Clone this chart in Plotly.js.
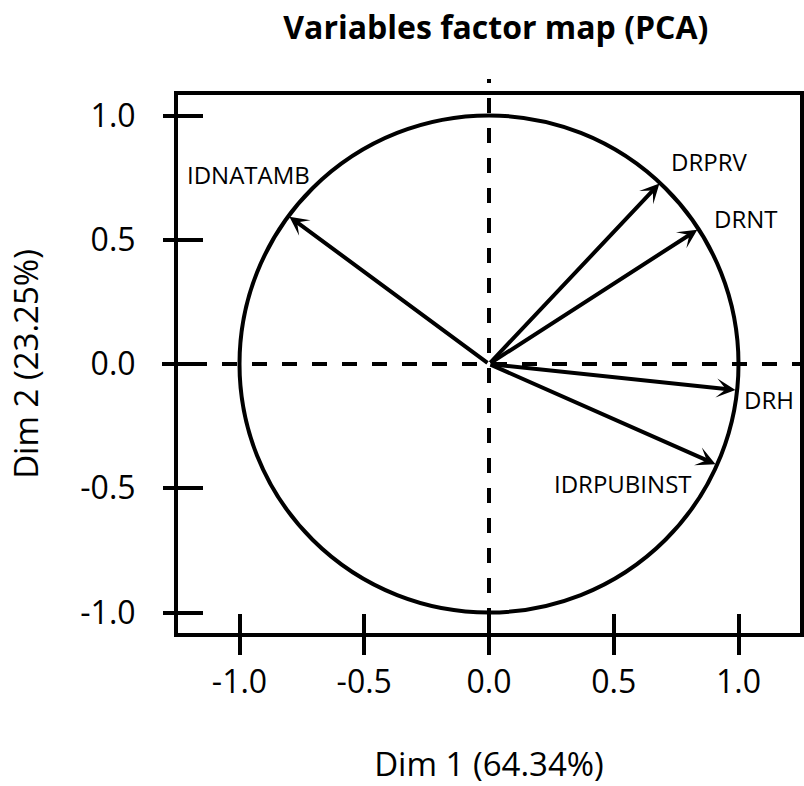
<!DOCTYPE html>
<html><head><meta charset="utf-8">
<script src="https://cdn.plot.ly/plotly-3.0.1.min.js"></script>
<style>html,body{margin:0;padding:0;background:#fff}</style>
</head><body><div id="chart" style="width:804px;height:786px"></div>
<script>
const variables = ['IDNATAMB', 'DRPRV', 'DRNT', 'DRH', 'IDRPUBINST'];
const dim1 = [-0.800, 0.683, 0.835, 0.988, 0.908];
const dim2 = [0.593, 0.726, 0.540, -0.105, -0.403];
const tickValues = [-1, -0.5, 0, 0.5, 1];
const tickLabels = ['-1.0', '-0.5', '0.0', '0.5', '1.0'];
const dim1Label = 'Dim 1 (64.34%)';
const dim2Label = 'Dim 2 (23.25%)';
const chartTitle = 'Variables factor map (PCA)';

// label offsets in pixels (style only)
const labelShift = [[-41, 42], [50, 22], [49, 11], [33, -9], [-93, -19]];

const FONT = 'Open Sans, Liberation Sans, sans-serif';
const xRange = [-1.2465, 1.2465];
const yRange = [-1.0825, 1.0825];

const annotations = [];
variables.forEach((v, i) => {
  annotations.push({
    x: dim1[i], y: dim2[i], xref: 'x', yref: 'y',
    ax: 0, ay: 0, axref: 'x', ayref: 'y',
    text: '', showarrow: true, arrowhead: 3, arrowsize: 0.8,
    arrowwidth: 4, arrowcolor: '#000', standoff: 0, startstandoff: 0
  });
  annotations.push({
    x: dim1[i], y: dim2[i], xref: 'x', yref: 'y',
    text: v, showarrow: false,
    xshift: labelShift[i][0], yshift: labelShift[i][1],
    xanchor: 'center', yanchor: 'middle',
    font: {family: FONT, size: 24, color: '#000'}
  });
});

const axisCommon = {
  tickvals: tickValues, ticktext: tickLabels,
  showgrid: false, zeroline: false,
  tickwidth: 4, tickcolor: '#000'
};

const layout = {
  width: 804, height: 786,
  margin: {l: 178, r: 4, t: 95, b: 153, pad: 0},
  paper_bgcolor: '#fff', plot_bgcolor: '#fff',
  showlegend: false,
  title: {
    text: chartTitle, xref: 'paper', x: 0.511, xanchor: 'center',
    yref: 'container', y: 1 - 28 / 786, yanchor: 'middle',
    font: {family: FONT, size: 32, weight: 'bold', color: '#000'}
  },
  xaxis: Object.assign({}, axisCommon, {
    range: xRange, ticks: 'outside', ticklen: 18,
    showline: true, linewidth: 4, linecolor: '#000', mirror: true,
    tickfont: {family: FONT, size: 32, color: '#000'},
    ticklabelstandoff: 0,
    title: {text: dim1Label, font: {family: FONT, size: 33, color: '#000'}, standoff: 52}
  }),
  yaxis: Object.assign({}, axisCommon, {
    range: yRange, ticks: 'outside', ticklen: 11,
    showline: true, linewidth: 4, linecolor: '#000', mirror: true,
    tickfont: {family: FONT, size: 32, color: '#000'},
    ticklabelstandoff: 21,
    title: {text: dim2Label, font: {family: FONT, size: 33, color: '#000'}, standoff: 33}
  }),
  xaxis2: Object.assign({}, axisCommon, {
    range: xRange, overlaying: 'x', anchor: 'y', side: 'bottom',
    ticks: 'inside', ticklen: 19, showticklabels: false, showline: false
  }),
  yaxis2: Object.assign({}, axisCommon, {
    range: yRange, overlaying: 'y', anchor: 'x', side: 'left',
    ticks: 'inside', ticklen: 25, showticklabels: false, showline: false
  }),
  shapes: [
    {type: 'circle', xref: 'x', yref: 'y', x0: -1, x1: 1, y0: -1, y1: 1,
     line: {color: '#000', width: 4}},
    {type: 'line', xref: 'x', yref: 'paper', x0: 0, x1: 0, y0: -20 / 538, y1: 1 + 16 / 538,
     line: {color: '#000', width: 4, dash: '15px,15px'}},
    {type: 'line', xref: 'paper', yref: 'y', x0: -16 / 622, x1: 1, y0: 0, y1: 0,
     line: {color: '#000', width: 4, dash: '15px,15px'}}
  ],
  annotations: annotations
};

const traces = [
  {type: 'scatter', x: [], y: [], xaxis: 'x', yaxis: 'y', hoverinfo: 'skip', showlegend: false},
  {type: 'scatter', x: [], y: [], xaxis: 'x2', yaxis: 'y2', hoverinfo: 'skip', showlegend: false}
];

Plotly.newPlot('chart', traces, layout, {displayModeBar: false, staticPlot: true});
</script>
</body></html>
